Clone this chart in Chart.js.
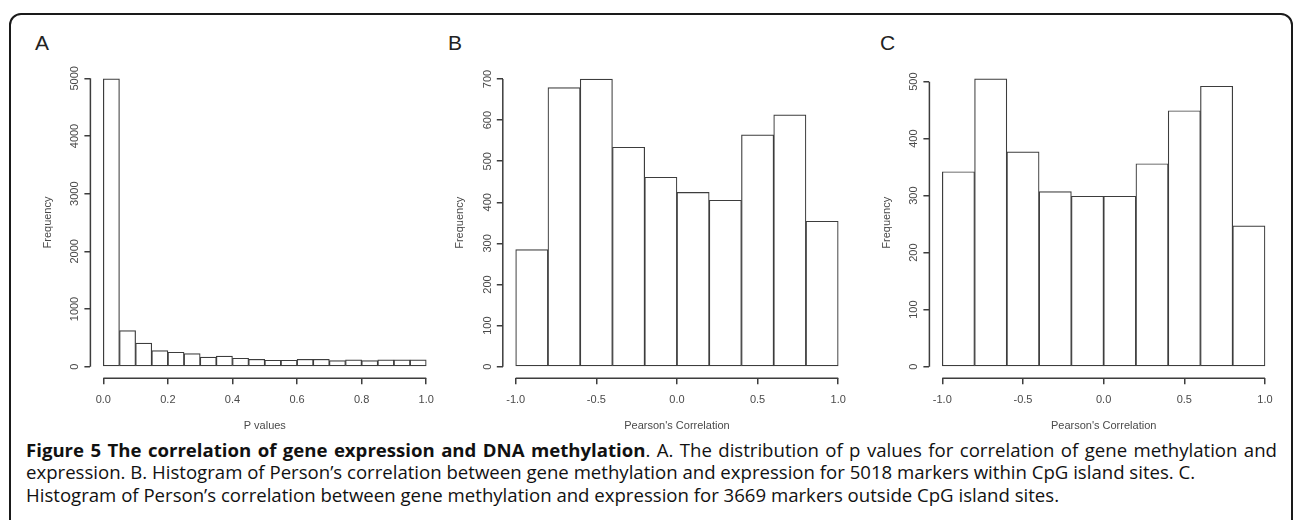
<!DOCTYPE html>
<html>
<head>
<meta charset="utf-8">
<script src="https://cdn.jsdelivr.net/npm/chart.js@4.4.1/dist/chart.umd.min.js"></script>
<style>
  body { margin: 0; background: #fff; width: 1295px; height: 520px; overflow: hidden; position: relative; font-family: "Liberation Sans", Arial, sans-serif; }
  #frame { position: absolute; left: 9px; top: 13px; width: 1284px; height: 560px; box-sizing: border-box; border: 2px solid #1a1a1a; border-radius: 12px; }
  canvas { position: absolute; top: 60px; }
  .tag { position: absolute; top: 32px; font-size: 21px; line-height: 1; color: #222; }
  .cap { position: absolute; left: 26px; width: 1251px; font-family: "Open Sans", sans-serif; font-size: 18.6px; line-height: 22.3px; color: #111; white-space: nowrap; }
  .cap.first { text-align: justify; text-align-last: justify; }
</style>
</head>
<body>
<div id="frame"></div>
<div class="tag" style="left:35px">A</div>
<div class="tag" style="left:448px">B</div>
<div class="tag" style="left:880px">C</div>
<canvas id="chartA" width="402" height="373" style="left:41px"></canvas>
<canvas id="chartB" width="402" height="373" style="left:453px"></canvas>
<canvas id="chartC" width="402" height="373" style="left:880px"></canvas>
<div class="cap first" style="top:439px"><b>Figure 5 The correlation of gene expression and DNA methylation</b>. A. The distribution of p values for correlation of gene methylation and</div>
<div class="cap" style="top:461.3px">expression. B. Histogram of Person’s correlation between gene methylation and expression for 5018 markers within CpG island sites. C.</div>
<div class="cap" style="top:483.6px">Histogram of Person’s correlation between gene methylation and expression for 3669 markers outside CpG island sites.</div>
<script>
// histogram bins (left edges) and counts
var binStartA = [0.00, 0.05, 0.10, 0.15, 0.20, 0.25, 0.30, 0.35, 0.40, 0.45, 0.50, 0.55, 0.60, 0.65, 0.70, 0.75, 0.80, 0.85, 0.90, 0.95];
var countsA = [4990, 625, 410, 278, 250, 225, 165, 183, 146, 128, 112, 112, 128, 128, 105, 117, 105, 117, 117, 117];

var binStartBC = [-1.0, -0.8, -0.6, -0.4, -0.2, 0.0, 0.2, 0.4, 0.6, 0.8];
var countsB = [285, 679, 700, 534, 461, 424, 405, 564, 613, 354];
var countsC = [342, 505, 377, 307, 299, 299, 356, 449, 492, 247];

var xTicksA = [0, 0.2, 0.4, 0.6, 0.8, 1.0];
var xTicksBC = [-1.0, -0.5, 0.0, 0.5, 1.0];
var yTicksA = [0, 1000, 2000, 3000, 4000, 5000];
var yTicksB = [0, 100, 200, 300, 400, 500, 600, 700];
var yTicksC = [0, 100, 200, 300, 400, 500];

var lineCol = '#3d3d3d';
var textCol = '#4a4a4a';
var axisFont = { family: '"Liberation Sans", Arial, sans-serif', size: 11 };

function histPanel(id, binStart, binWidth, counts, xTicks, yTicks, xRange, yRange, xTitle, yWidth, padTop, padRight) {
  var points = [];
  for (var i = 0; i < counts.length; i++) {
    points.push({ x: binStart[i] + binWidth / 2, y: counts[i] });
  }

  // R-style axes: lines only between first and last tick, rotated y labels
  var rAxes = {
    id: 'rAxes',
    afterDraw: function(chart) {
      var ctx = chart.ctx, xs = chart.scales.x, ys = chart.scales.y, area = chart.chartArea;
      ctx.save();
      ctx.strokeStyle = lineCol;
      ctx.lineWidth = 1.5;
      ctx.beginPath();
      ctx.moveTo(xs.getPixelForValue(xTicks[0]), area.bottom);
      ctx.lineTo(xs.getPixelForValue(xTicks[xTicks.length - 1]), area.bottom);
      ctx.moveTo(area.left, ys.getPixelForValue(yTicks[0]));
      ctx.lineTo(area.left, ys.getPixelForValue(yTicks[yTicks.length - 1]));
      ctx.stroke();
      ctx.fillStyle = textCol;
      ctx.font = '11px "Liberation Sans", Arial, sans-serif';
      ctx.textAlign = 'center';
      ctx.textBaseline = 'middle';
      ys.ticks.forEach(function(t) {
        ctx.save();
        ctx.translate(area.left - 15, ys.getPixelForValue(t.value));
        ctx.rotate(-Math.PI / 2);
        ctx.fillText(String(t.value), 0, 0);
        ctx.restore();
      });
      ctx.restore();
    }
  };

  return new Chart(document.getElementById(id), {
    type: 'bar',
    data: {
      datasets: [{
        data: points,
        backgroundColor: '#ffffff',
        borderColor: lineCol,
        borderWidth: 1.2,
        borderSkipped: false,
        barPercentage: 1,
        categoryPercentage: 1
      }]
    },
    options: {
      responsive: false,
      animation: false,
      devicePixelRatio: 1,
      layout: { padding: { top: padTop, right: padRight, left: 0, bottom: 0 } },
      plugins: { legend: { display: false }, tooltip: { enabled: false } },
      scales: {
        x: {
          type: 'linear',
          min: xRange[0],
          max: xRange[1],
          bounds: 'data',
          offset: false,
          afterBuildTicks: function(s) { s.ticks = xTicks.map(function(v) { return { value: v }; }); },
          afterFit: function(s) { s.height = 54.8; },
          border: { display: false },
          grid: { offset: false, drawOnChartArea: false, drawTicks: true, tickLength: 6, color: lineCol, lineWidth: 1.5 },
          ticks: { autoSkip: false, maxRotation: 0, padding: 9, color: textCol, font: axisFont,
                   callback: function(v) { return Number(v).toFixed(1); } },
          title: { display: true, text: xTitle, color: textCol, font: axisFont, padding: 0 }
        },
        y: {
          min: yRange[0],
          max: yRange[1],
          bounds: 'data',
          afterBuildTicks: function(s) { s.ticks = yTicks.map(function(v) { return { value: v }; }); },
          afterFit: function(s) { s.width = yWidth; },
          border: { display: false },
          grid: { drawOnChartArea: false, drawTicks: true, tickLength: 6, color: lineCol, lineWidth: 1.5 },
          ticks: { display: false },
          title: { display: true, text: 'Frequency', color: textCol, font: axisFont, padding: 0 }
        }
      }
    },
    plugins: [rAxes]
  });
}

histPanel('chartA', binStartA, 0.05, countsA, xTicksA, yTicksA, [-0.04, 1.04], [-200, 5200], 'P values', 49.4, 6.8, 3.4);
histPanel('chartB', binStartBC, 0.2, countsB, xTicksBC, yTicksB, [-1.08, 1.08], [-28, 728], "Pearson's Correlation", 49.8, 7.5, 3.8);
histPanel('chartC', binStartBC, 0.2, countsC, xTicksBC, yTicksC, [-1.08, 1.08], [-20.2, 525.2], "Pearson's Correlation", 49.4, 7.3, 4.1);
</script>
</body>
</html>
